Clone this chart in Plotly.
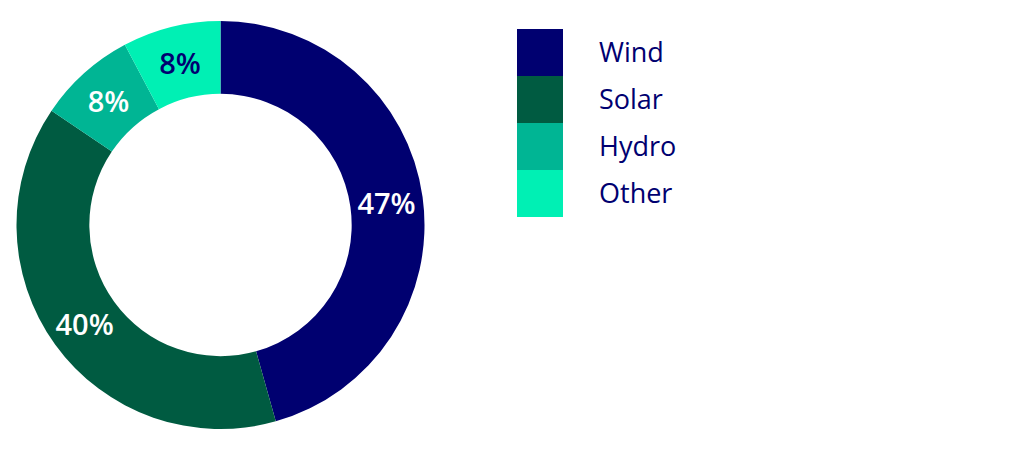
import plotly.graph_objects as go

categories = ["Wind", "Solar", "Hydro", "Other"]
values = [47, 40, 8, 8]
colors = ["#000070", "#005b41", "#00b594", "#00f0b4"]
text_colors = ["#ffffff", "#ffffff", "#ffffff", "#000070"]

OFF = 8  # page body margin
W, H = 1032 - OFF, 449 - OFF


def fx(px):
    return (px - OFF) / W


def fy(py):
    return 1 - (py - OFF) / H


fig = go.Figure()

fig.add_trace(go.Pie(
    labels=categories,
    values=values,
    sort=False,
    direction="clockwise",
    rotation=0,
    hole=0.643,
    marker=dict(colors=colors, line=dict(width=0)),
    texttemplate="%{value}%",
    textposition="inside",
    insidetextorientation="horizontal",
    textfont=dict(family="Open Sans", size=29, color=text_colors, weight=600),
    showlegend=False,
    domain=dict(x=[fx(16), fx(425)], y=[fy(429), fy(21)]),
))

# Legend drawn as a stacked swatch column
n = len(categories)
fig.add_trace(go.Bar(
    x=[0] * n,
    y=[1] * n,
    base=[n - 1 - i for i in range(n)],
    width=1,
    marker=dict(color=colors, line=dict(width=0)),
    xaxis="x", yaxis="y",
    showlegend=False,
    hoverinfo="skip",
))

fig.update_layout(
    width=W, height=H,
    margin=dict(l=0, r=0, t=0, b=0),
    paper_bgcolor="white",
    plot_bgcolor="white",
    xaxis=dict(domain=[fx(517), fx(563)], range=[-0.5, 0.5], visible=False, fixedrange=True),
    yaxis=dict(
        domain=[fy(217), fy(29)], range=[0, n],
        side="right", showgrid=False, zeroline=False, showline=False,
        tickvals=[n - 0.5 - i for i in range(n)], ticktext=categories,
        ticks="", ticklabelstandoff=35,
        tickfont=dict(family="Open Sans", size=27, color="#000070"),
        fixedrange=True,
    ),
)

fig.write_html("out.html")
